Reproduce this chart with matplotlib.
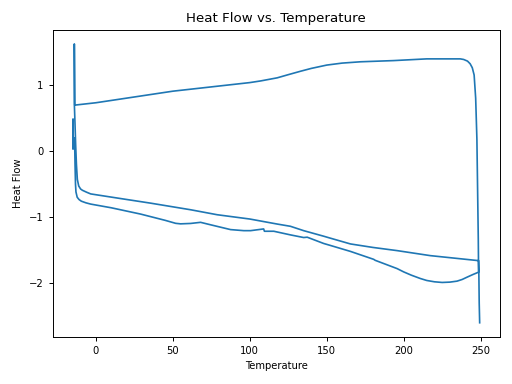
import matplotlib
matplotlib.use("Agg")
import matplotlib.pyplot as plt
import numpy as np

# Segment 1: first heating (lower branch with features)
heat1_T = [-14.9, -14.9, -14.9, -14.2, -13.9, -13.6, -13.3, -13.0, -12.2, -11.0, -9.5, -6.5, -3.4, 10.0, 29.0,
           45.0, 51.8, 55.0, 61.5, 68.0, 75.0, 87.5, 96.1, 100.5, 109.0, 109.5, 115.6,
           126.4, 135.0, 137.3, 148.0, 152.4, 165.4, 180.5, 181.5, 195.7, 200.0, 205.0, 210.8,
           215.0, 220.0, 225.0, 230.0, 234.7, 238.0, 241.2, 245.0, 248.7]
heat1_H = [0.03, 0.48, 0.05, 0.1, 0.2, -0.2, -0.5, -0.62, -0.70, -0.735, -0.76, -0.785, -0.804, -0.86, -0.955,
           -1.05, -1.095, -1.103, -1.097, -1.08, -1.12, -1.19, -1.206, -1.206, -1.18, -1.215, -1.215,
           -1.27, -1.31, -1.305, -1.40, -1.43, -1.52, -1.64, -1.655, -1.78, -1.83, -1.88, -1.93,
           -1.96, -1.98, -1.99, -1.985, -1.97, -1.945, -1.91, -1.87, -1.834]

# Segment 2: cooling (top branch)
cool_T = [248.5, 247.6, 246.8, 245.8, 244.6, 243.2, 241.5, 239.0, 236.8, 215.0, 193.5,
          172.0, 160.0, 150.0, 140.0, 133.0, 125.0, 117.8, 107.0, 100.0, 50.0, 0.0, -13.8]
cool_H = [-1.33, 0.18, 0.8, 1.15, 1.26, 1.32, 1.36, 1.385, 1.394, 1.394, 1.368,
          1.35, 1.33, 1.30, 1.25, 1.207, 1.155, 1.107, 1.06, 1.035, 0.905, 0.73, 0.694]

# Segment 3: isothermal spike + second heating
heat2_T = [-14.05, -14.0, -13.6, -13.2, -12.7, -12.1, -11.2, -10.0, -8.8, -6.0, -3.4, 16.0,
           35.6, 61.6, 78.8, 100.0, 117.8, 126.4, 135.0, 148.0, 152.4, 165.4, 180.0,
           195.7, 217.3, 248.7, 248.9, 249.1, 249.4]
heat2_H = [1.62, 0.68, 0.4, 0.1, -0.2, -0.43, -0.53, -0.575, -0.595, -0.625, -0.65, -0.72,
           -0.79, -0.89, -0.965, -1.03, -1.106, -1.14, -1.206, -1.29, -1.32, -1.407, -1.46,
           -1.508, -1.584, -1.66, -1.9, -2.3, -2.6]

temperature = heat1_T + cool_T + heat2_T
heat_flow = heat1_H + cool_H + heat2_H

fig = plt.figure(figsize=(5.12, 3.84), dpi=100)
ax = fig.add_axes([52.7 / 512, 1 - 336.7 / 384, (500 - 52.7) / 512, (336.7 - 30) / 384])
ax.plot(temperature, heat_flow, color="#1f77b4", lw=1.2)
ax.set_title("Heat Flow vs. Temperature", fontsize=9.6)
ax.set_xlabel("Temperature", fontsize=7.2)
ax.set_ylabel("Heat Flow", fontsize=7.2)
ax.tick_params(labelsize=7.2, length=3, width=0.7)
for s in ax.spines.values():
    s.set_linewidth(0.7)
ax.set_xticks([0, 50, 100, 150, 200, 250])
ax.set_yticks([-2, -1, 0, 1])
fig.savefig("out.png", dpi=100)
